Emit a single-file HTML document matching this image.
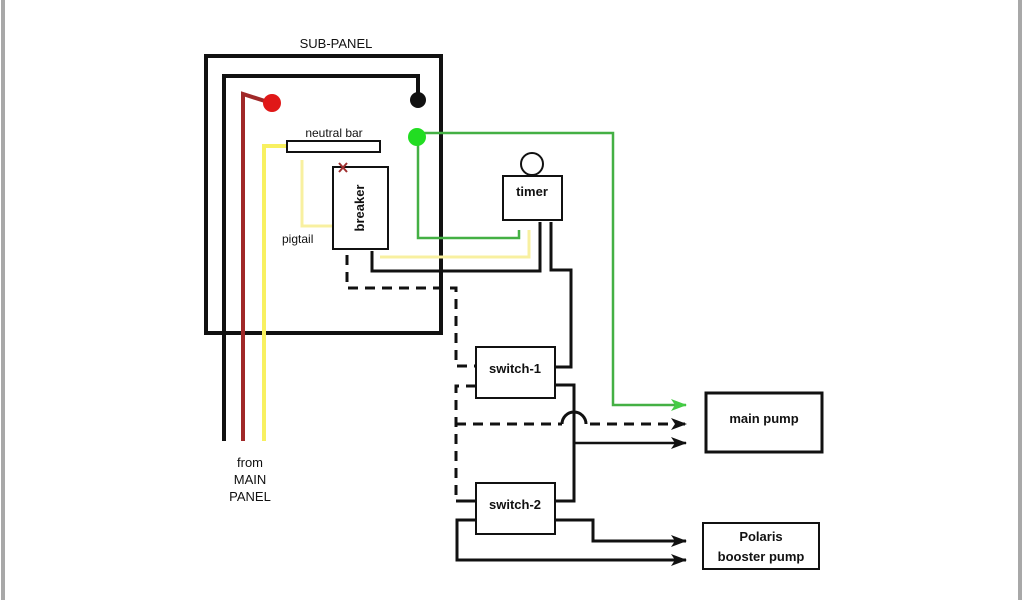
<!DOCTYPE html>
<html><head><meta charset="utf-8"><style>
html,body{margin:0;padding:0;background:#fff;width:1024px;height:600px;overflow:hidden}
svg{display:block}
text{font-family:"Liberation Sans",sans-serif;fill:#111}
</style></head><body>
<svg width="1024" height="600" viewBox="0 0 1024 600" xmlns="http://www.w3.org/2000/svg">
<defs>
<marker id="ab" markerWidth="16" markerHeight="12" refX="15" refY="6" orient="auto" markerUnits="userSpaceOnUse"><path d="M0,0 L16,6 L0,12 L4,6 z" fill="#111"/></marker>
<marker id="ag" markerWidth="16" markerHeight="12" refX="15" refY="6" orient="auto" markerUnits="userSpaceOnUse"><path d="M0,0 L16,6 L0,12 L4,6 z" fill="#44cc44"/></marker>
</defs>
<rect x="1" y="0" width="4" height="600" fill="#a8a8a8"/>
<rect x="1018" y="0" width="4" height="600" fill="#a8a8a8"/>

<text x="336" y="48" font-size="13" text-anchor="middle">SUB-PANEL</text>
<rect x="206" y="56" width="235" height="277" fill="none" stroke="#111" stroke-width="4"/>

<polyline points="224,441 224,76 418,76 418,98" fill="none" stroke="#111" stroke-width="4"/>
<circle cx="418" cy="100" r="8" fill="#111"/>
<polyline points="243,441 243,94 268,102" fill="none" stroke="#a02828" stroke-width="4"/>
<circle cx="272" cy="103" r="9" fill="#e01818"/>
<polyline points="264,441 264,146 287,146" fill="none" stroke="#f8f060" stroke-width="4"/>
<rect x="287" y="141" width="93" height="11" fill="#fff" stroke="#111" stroke-width="2"/>
<text x="334" y="137" font-size="12" text-anchor="middle">neutral bar</text>
<polyline points="302,160 302,226 333,226" fill="none" stroke="#f8f0a0" stroke-width="3"/>
<text x="282" y="243" font-size="12">pigtail</text>
<rect x="333" y="167" width="55" height="82" fill="#fff" stroke="#111" stroke-width="2"/>
<text x="0" y="0" font-size="13" font-weight="bold" text-anchor="middle" transform="translate(364,208) rotate(-90)">breaker</text>
<path d="M339,163 L347,172 M347,163 L339,172" stroke="#a03030" stroke-width="2"/>

<polyline points="418,133 613,133 613,405 686,405" fill="none" stroke="#44b044" stroke-width="2.5" marker-end="url(#ag)"/>
<polyline points="418,137 418,238 519,238 519,230" fill="none" stroke="#44b044" stroke-width="2.5"/>
<circle cx="417" cy="137" r="9" fill="#22dd22"/>

<circle cx="532" cy="164" r="11" fill="#fff" stroke="#111" stroke-width="2"/>
<rect x="503" y="176" width="59" height="44" fill="#fff" stroke="#111" stroke-width="2"/>
<text x="532" y="196" font-size="13" font-weight="bold" text-anchor="middle">timer</text>

<polyline points="380,257 529,257 529,230" fill="none" stroke="#f8f0a0" stroke-width="3"/>
<polyline points="372,251 372,271 540,271 540,222" fill="none" stroke="#111" stroke-width="3"/>
<polyline points="551,222 551,270 571,270 571,367 555,367" fill="none" stroke="#111" stroke-width="3"/>

<polyline points="347,255 347,288 456,288 456,366 476,366" fill="none" stroke="#111" stroke-width="3" stroke-dasharray="10,7"/>
<polyline points="476,386 456,386 456,500" fill="none" stroke="#111" stroke-width="3" stroke-dasharray="10,7"/>
<line x1="456" y1="424" x2="562" y2="424" stroke="#111" stroke-width="3" stroke-dasharray="10,7"/>
<path d="M562,424 A11,11 0 0 1 586,424" fill="none" stroke="#111" stroke-width="3"/>
<line x1="590" y1="424" x2="686" y2="424" stroke="#111" stroke-width="3" stroke-dasharray="10,7" marker-end="url(#ab)"/>

<rect x="476" y="347" width="79" height="51" fill="#fff" stroke="#111" stroke-width="2"/>
<text x="515" y="373" font-size="13" font-weight="bold" text-anchor="middle">switch-1</text>
<polyline points="555,385 574,385 574,501 555,501" fill="none" stroke="#111" stroke-width="3"/>
<line x1="574" y1="443" x2="686" y2="443" stroke="#111" stroke-width="2.5" marker-end="url(#ab)"/>

<line x1="456" y1="501" x2="476" y2="501" stroke="#111" stroke-width="3"/>
<rect x="476" y="483" width="79" height="51" fill="#fff" stroke="#111" stroke-width="2"/>
<text x="515" y="509" font-size="13" font-weight="bold" text-anchor="middle">switch-2</text>
<polyline points="555,520 593,520 593,541 686,541" fill="none" stroke="#111" stroke-width="3" marker-end="url(#ab)"/>
<polyline points="476,520 457,520 457,560 686,560" fill="none" stroke="#111" stroke-width="3" marker-end="url(#ab)"/>

<rect x="706" y="393" width="116" height="59" fill="#fff" stroke="#111" stroke-width="3"/>
<text x="764" y="423" font-size="13" font-weight="bold" text-anchor="middle">main pump</text>
<rect x="703" y="523" width="116" height="46" fill="#fff" stroke="#111" stroke-width="2"/>
<text x="761" y="541" font-size="13" font-weight="bold" text-anchor="middle">Polaris</text>
<text x="761" y="561" font-size="13" font-weight="bold" text-anchor="middle">booster pump</text>

<text x="250" y="467" font-size="13" text-anchor="middle">from</text>
<text x="250" y="484" font-size="13" text-anchor="middle">MAIN</text>
<text x="250" y="501" font-size="13" text-anchor="middle">PANEL</text>
</svg>
</body></html>
